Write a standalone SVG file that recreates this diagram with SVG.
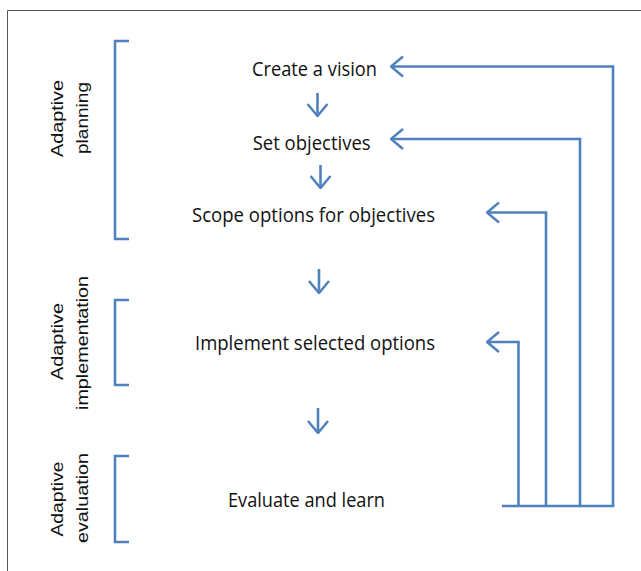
<svg xmlns="http://www.w3.org/2000/svg" width="641" height="571" viewBox="0 0 641 571">
  <defs>
    <marker id="chev" viewBox="0 0 14 22" refX="13" refY="11" markerWidth="14" markerHeight="22" markerUnits="userSpaceOnUse" orient="auto">
      <path d="M1,1 L13,11 L1,21" fill="none" stroke="#4F81BD" stroke-width="2.5"/>
    </marker>
    <style>
      .ln { fill: none; stroke: #4F81BD; stroke-width: 2.6; }
      .ar { fill: none; stroke: #4F81BD; stroke-width: 2.6; marker-end: url(#chev); }
      .step { font-family: "Open Sans", "Liberation Sans", sans-serif; font-size: 20px; fill: #111; text-anchor: middle; }
      .lab { font-family: "Liberation Sans", Arial, sans-serif; font-size: 17px; fill: #111; text-anchor: middle; }
    </style>
  </defs>
  <rect width="641" height="571" fill="#fff"/>
  <path d="M7.5,571 V10.5 H641" fill="none" stroke="#555" stroke-width="1"/>

  <g id="bracket-planning">
    <path class="ln" d="M129,41 H115 V239 H129"/>
    <text class="lab" transform="translate(63,118.5) rotate(-90)" textLength="77" lengthAdjust="spacingAndGlyphs">Adaptive</text>
    <text class="lab" transform="translate(88,118) rotate(-90)" textLength="72" lengthAdjust="spacingAndGlyphs">planning</text>
  </g>
  <g id="bracket-implementation">
    <path class="ln" d="M129,300 H115 V385 H129"/>
    <text class="lab" transform="translate(63,341.5) rotate(-90)" textLength="77" lengthAdjust="spacingAndGlyphs">Adaptive</text>
    <text class="lab" transform="translate(88,343) rotate(-90)" textLength="134" lengthAdjust="spacingAndGlyphs">implementation</text>
  </g>
  <g id="bracket-evaluation">
    <path class="ln" d="M129,456 H115 V542 H129"/>
    <text class="lab" transform="translate(63,499) rotate(-90)" textLength="75" lengthAdjust="spacingAndGlyphs">Adaptive</text>
    <text class="lab" transform="translate(88,498) rotate(-90)" textLength="90" lengthAdjust="spacingAndGlyphs">evaluation</text>
  </g>

  <g id="node-vision"><text class="step" x="314.5" y="76" textLength="125" lengthAdjust="spacingAndGlyphs">Create a vision</text></g>
  <g id="node-objectives"><text class="step" x="311.7" y="150" textLength="118" lengthAdjust="spacingAndGlyphs">Set objectives</text></g>
  <g id="node-scope"><text class="step" x="313.5" y="222" textLength="243" lengthAdjust="spacingAndGlyphs">Scope options for objectives</text></g>
  <g id="node-implement"><text class="step" x="315" y="350" textLength="240" lengthAdjust="spacingAndGlyphs">Implement selected options</text></g>
  <g id="node-evaluate"><text class="step" x="306.5" y="507" textLength="157" lengthAdjust="spacingAndGlyphs">Evaluate and learn</text></g>

  <g id="connectors">
    <path class="ar" d="M317.5,93 V116"/>
    <path class="ar" d="M320.5,165 V188"/>
    <path class="ar" d="M319,269 V293"/>
    <path class="ar" d="M318,408 V433"/>
    <path class="ar" d="M613,506 V66.5 H391"/>
    <path class="ar" d="M580,506 V139 H391"/>
    <path class="ar" d="M546,506 V212.5 H487"/>
    <path class="ar" d="M518.5,506 V342 H487"/>
    <path class="ln" d="M502,506 H614.3"/>
  </g>
</svg>
